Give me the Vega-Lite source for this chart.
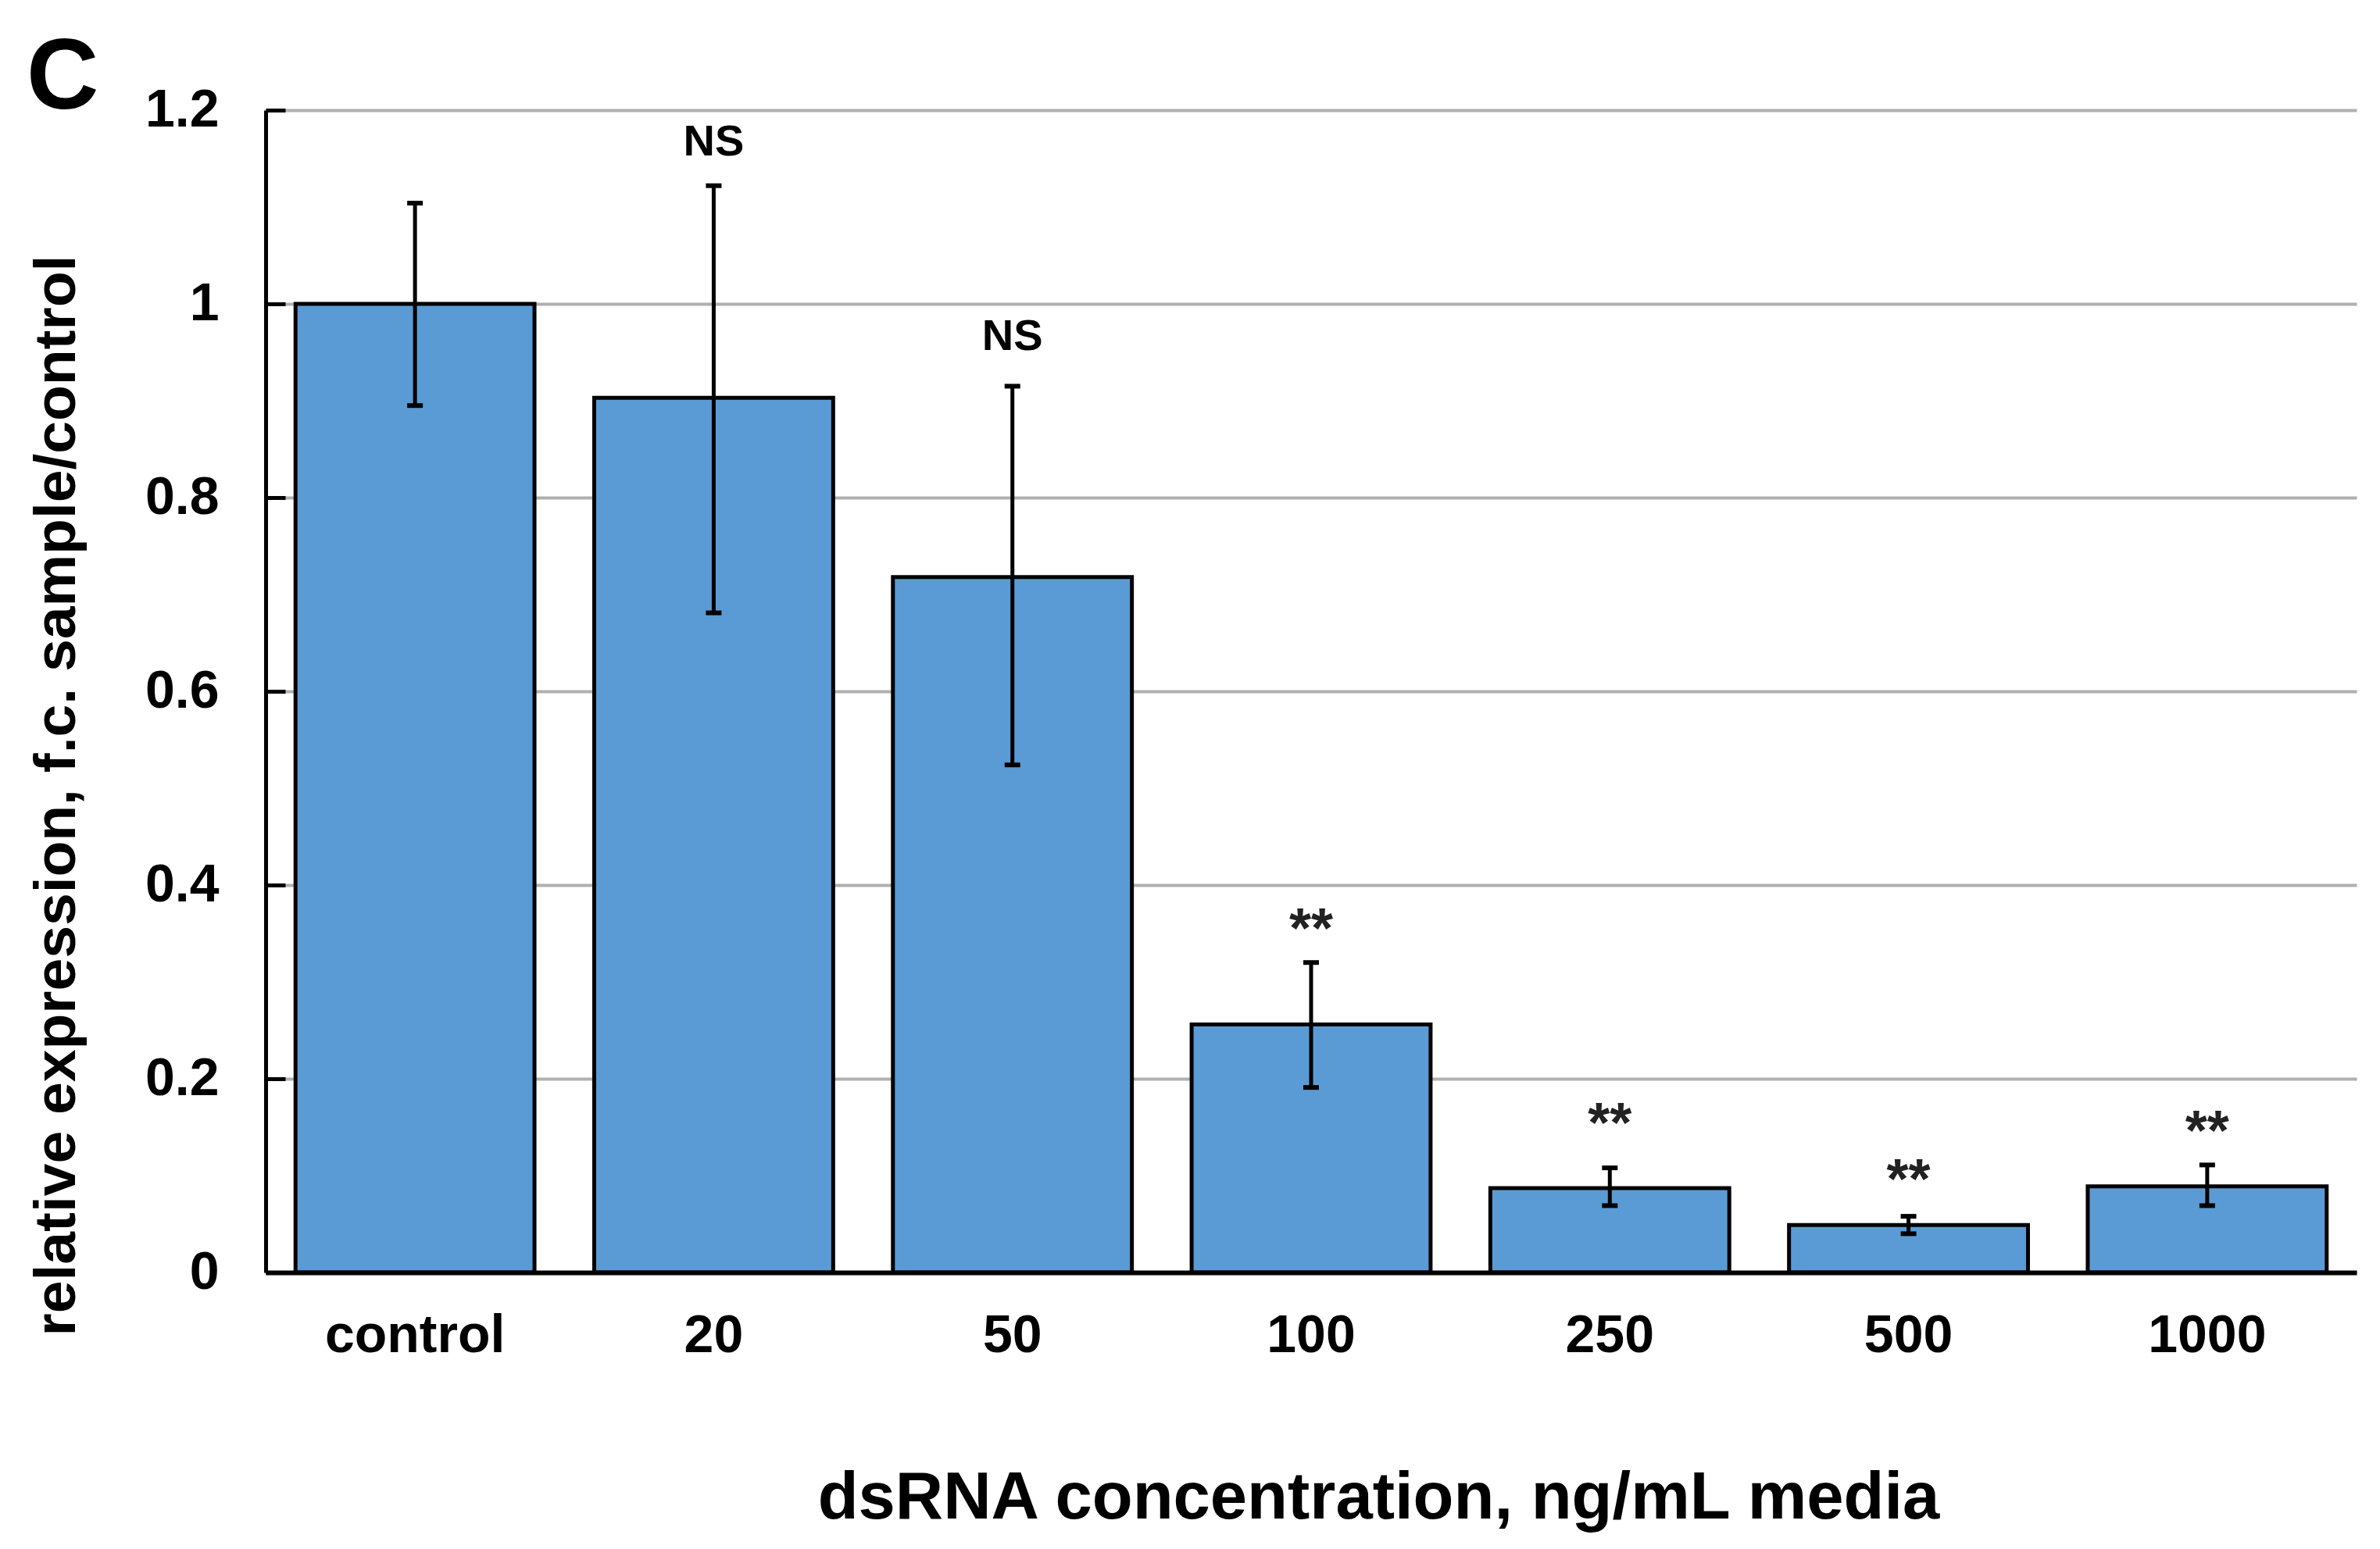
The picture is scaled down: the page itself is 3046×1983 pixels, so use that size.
{
  "$schema": "https://vega.github.io/schema/vega-lite/v6.json",
  "width": 2676,
  "height": 1488,
  "autosize": {"type": "none"},
  "padding": {"left": 340, "top": 141, "right": 30, "bottom": 354},
  "background": "white",
  "config": {"view": {"stroke": null}, "font": "Liberation Sans"},
  "title": {"text": "C", "anchor": "start", "frame": "group", "orient": "top", "dx": -306, "offset": -160, "baseline": "alphabetic", "fontSize": 128, "fontWeight": "bold", "font": "Liberation Sans", "color": "black"},
  "data": {
    "values": [
      {"conc": "control", "value": 1.0, "lo": 0.895, "hi": 1.104, "sig": "", "ly": 0},
      {"conc": "20", "value": 0.903, "lo": 0.681, "hi": 1.122, "sig": "NS", "ly": 1.170},
      {"conc": "50", "value": 0.718, "lo": 0.524, "hi": 0.915, "sig": "NS", "ly": 0.969},
      {"conc": "100", "value": 0.256, "lo": 0.191, "hi": 0.320, "sig": "**", "ly": 0.366},
      {"conc": "250", "value": 0.087, "lo": 0.069, "hi": 0.108, "sig": "**", "ly": 0.165},
      {"conc": "500", "value": 0.049, "lo": 0.040, "hi": 0.058, "sig": "**", "ly": 0.107},
      {"conc": "1000", "value": 0.089, "lo": 0.069, "hi": 0.111, "sig": "**", "ly": 0.157}
    ]
  },
  "encoding": {
    "x": {
      "field": "conc", "type": "nominal", "sort": null,
      "scale": {"paddingInner": 0.2, "paddingOuter": 0.1},
      "axis": {
        "title": "dsRNA concentration, ng/mL media",
        "labelAngle": 0, "ticks": false, "labelLimit": 1000,
        "domainColor": "black", "domainWidth": 6,
        "labelPadding": 47, "labelFontSize": 68, "labelFontWeight": "bold", "labelFont": "Liberation Sans", "labelColor": "black",
        "titleFont": "Liberation Sans", "titleFontSize": 85, "titleFontWeight": "bold", "titleColor": "black",
        "titleX": 1424, "titleY": 314, "titleBaseline": "alphabetic", "titleAlign": "center",
        "zindex": 1
      }
    }
  },
  "layer": [
    {
      "mark": {"type": "bar", "fill": "#5b9bd5", "stroke": "black", "strokeWidth": 5, "opacity": 1},
      "encoding": {
        "y": {
          "field": "value", "type": "quantitative",
          "scale": {"domain": [0, 1.2], "nice": false},
          "axis": {
            "title": "relative expression, f.c. sample/control",
            "values": [0, 0.2, 0.4, 0.6, 0.8, 1.0, 1.2],
            "format": "~g",
            "grid": true, "gridColor": "#b0b0b0", "gridWidth": 4,
            "domainColor": "black", "domainWidth": 5,
            "ticks": true, "tickSize": -25, "tickWidth": 5, "tickColor": "black",
            "labelPadding": 85, "labelFont": "Liberation Sans", "labelFontWeight": "bold", "labelFontSize": 68, "labelColor": "black",
            "titleFont": "Liberation Sans", "titleFontSize": 75, "titleFontWeight": "bold", "titleColor": "black",
            "titleAngle": 270, "titleAlign": "center", "titleBaseline": "alphabetic",
            "titleX": -245, "titleY": 877
          }
        }
      }
    },
    {
      "mark": {"type": "rule", "strokeWidth": 5, "color": "black", "opacity": 1},
      "encoding": {
        "y": {"field": "lo", "type": "quantitative"},
        "y2": {"field": "hi"}
      }
    },
    {
      "mark": {"type": "tick", "size": 20, "thickness": 6, "color": "black", "opacity": 1},
      "encoding": {"y": {"field": "lo", "type": "quantitative"}}
    },
    {
      "mark": {"type": "tick", "size": 20, "thickness": 6, "color": "black", "opacity": 1},
      "encoding": {"y": {"field": "hi", "type": "quantitative"}}
    },
    {
      "transform": [{"filter": "datum.sig === 'NS'"}],
      "mark": {"type": "text", "font": "Liberation Sans", "fontWeight": "bold", "fontSize": 56, "color": "black", "baseline": "middle", "align": "center", "dy": 4},
      "encoding": {
        "y": {"field": "ly", "type": "quantitative"},
        "text": {"field": "sig"}
      }
    },
    {
      "transform": [{"filter": "datum.sig === '**'"}],
      "mark": {"type": "text", "font": "Liberation Sans", "fontWeight": "bold", "fontSize": 72, "color": "#222222", "baseline": "middle", "align": "center", "dy": 16},
      "encoding": {
        "y": {"field": "ly", "type": "quantitative"},
        "text": {"field": "sig"}
      }
    }
  ]
}
